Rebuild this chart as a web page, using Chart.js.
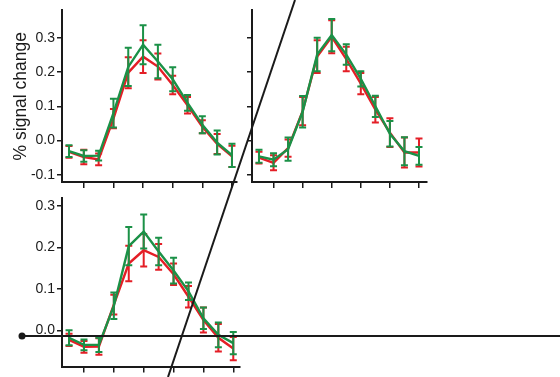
<!DOCTYPE html>
<html>
<head>
<meta charset="utf-8">
<script src="https://cdn.jsdelivr.net/npm/chart.js@4.4.1/dist/chart.umd.min.js"></script>
<style>
  html, body { margin: 0; padding: 0; background: #fff; }
  #wrap { position: relative; width: 560px; height: 377px; overflow: hidden; }
  #wrap canvas { position: absolute; left: 0; top: 0; }
</style>
</head>
<body>
<div id="wrap">
  <canvas id="p1" width="560" height="377"></canvas>
  <canvas id="p2" width="560" height="377"></canvas>
  <canvas id="p3" width="560" height="377"></canvas>
  <canvas id="guides" width="560" height="377"></canvas>
</div>
<script>
// time points (scans) and tick positions on the x axis
const timepoints = [1, 2, 3, 4, 5, 6, 7, 8, 9, 10, 11, 12];
const xTicks = [2, 4, 6, 8, 10, 12];
const yTicksTop = [-0.1, 0, 0.1, 0.2, 0.3];
const yTicksBottom = [0, 0.1, 0.2, 0.3];

// top left panel
const p1Red = [-0.033, -0.048, -0.055, 0.064, 0.198, 0.245, 0.216, 0.162, 0.103, 0.040, -0.010, -0.046];
const p1RedErr = [0.017, 0.021, 0.017, 0.028, 0.045, 0.048, 0.038, 0.027, 0.024, 0.019, 0.029, 0.031];
const p1Green = [-0.031, -0.045, -0.044, 0.080, 0.215, 0.280, 0.231, 0.179, 0.110, 0.046, -0.006, -0.043];
const p1GreenErr = [0.017, 0.017, 0.014, 0.042, 0.056, 0.057, 0.049, 0.035, 0.023, 0.025, 0.035, 0.034];

// top right panel
const p2Red = [-0.050, -0.065, -0.022, 0.086, 0.245, 0.303, 0.238, 0.166, 0.090, 0.023, -0.035, -0.035];
const p2RedErr = [0.017, 0.022, 0.025, 0.041, 0.048, 0.048, 0.036, 0.031, 0.037, 0.042, 0.044, 0.041];
const p2Green = [-0.046, -0.056, -0.025, 0.084, 0.251, 0.308, 0.251, 0.180, 0.100, 0.020, -0.031, -0.045];
const p2GreenErr = [0.019, 0.019, 0.034, 0.046, 0.049, 0.047, 0.030, 0.022, 0.031, 0.037, 0.041, 0.026];

// bottom panel
const p3Red = [-0.023, -0.040, -0.039, 0.062, 0.161, 0.193, 0.177, 0.135, 0.081, 0.025, -0.018, -0.044];
const p3RedErr = [0.015, 0.014, 0.020, 0.024, 0.043, 0.039, 0.031, 0.026, 0.026, 0.030, 0.033, 0.028];
const p3Green = [-0.018, -0.035, -0.035, 0.059, 0.203, 0.238, 0.190, 0.144, 0.094, 0.029, -0.011, -0.031];
const p3GreenErr = [0.018, 0.013, 0.017, 0.032, 0.046, 0.041, 0.033, 0.031, 0.021, 0.026, 0.030, 0.027];

// overlay guide lines, in page units
const slantLine = [[295, 0], [168, 377]];
const baseLine = [[22, 336], [560, 336]];
const baseDot = [[22, 336]];

const RED = "#e41e26";
const GREEN = "#1b9147";
const INK = "#1a1a1a";

Chart.defaults.font.family = "'Liberation Sans', Arial, sans-serif";
Chart.defaults.color = INK;

const errorBars = {
  id: "errorBars",
  afterDatasetDraw(chart, args) {
    const ds = chart.data.datasets[args.index];
    if (!ds.errors) return;
    const { ctx } = chart;
    const x = chart.scales.x, y = chart.scales.y;
    ctx.save();
    ctx.strokeStyle = ds.borderColor;
    ctx.lineWidth = 2;
    ds.data.forEach((d, i) => {
      const px = x.getPixelForValue(d.x);
      const top = y.getPixelForValue(d.y + ds.errors[i]);
      const bot = y.getPixelForValue(d.y - ds.errors[i]);
      ctx.beginPath();
      ctx.moveTo(px, top); ctx.lineTo(px, bot);
      ctx.moveTo(px - 3.5, top); ctx.lineTo(px + 3.5, top);
      ctx.moveTo(px - 3.5, bot); ctx.lineTo(px + 3.5, bot);
      ctx.stroke();
    });
    ctx.restore();
  }
};

const series = (vals, errs, color) => ({
  data: timepoints.map((t, i) => ({ x: t, y: vals[i] })),
  errors: errs,
  borderColor: color,
  borderWidth: 2.4,
  pointRadius: 0,
  tension: 0,
  fill: false
});

function makePanel(id, cfg) {
  const a = cfg.area;
  return new Chart(document.getElementById(id), {
    type: "line",
    data: {
      datasets: [
        series(cfg.green, cfg.greenErr, GREEN),
        series(cfg.red, cfg.redErr, RED)
      ]
    },
    options: {
      responsive: false,
      animation: false,
      events: [],
      layout: { padding: { left: 0, top: a.top, right: 560 - a.right, bottom: 0 } },
      plugins: { legend: { display: false }, tooltip: { enabled: false } },
      scales: {
        x: {
          type: "linear",
          min: cfg.xMin,
          max: cfg.xMax,
          afterBuildTicks: (s) => { s.ticks = xTicks.map((v) => ({ value: v })); },
          afterFit: (s) => { s.height = 377 - a.bottom; },
          ticks: { color: "transparent" },
          grid: { drawOnChartArea: false, drawTicks: true, tickLength: 6, color: INK, lineWidth: 1.5 },
          border: { display: true, color: INK, width: 2 }
        },
        y: {
          min: cfg.yMin,
          max: cfg.yMax,
          afterBuildTicks: (s) => { s.ticks = cfg.yTicks.map((v) => ({ value: v })); },
          afterFit: (s) => { s.width = a.left; },
          ticks: {
            color: cfg.labels ? INK : "transparent",
            font: { size: 14 },
            padding: 2,
            callback: (v) => v.toFixed(1)
          },
          grid: { drawOnChartArea: false, drawTicks: true, tickLength: 5, color: INK, lineWidth: 1.5 },
          border: { display: true, color: INK, width: 2 },
          title: {
            display: !!cfg.title,
            text: cfg.title || "",
            color: INK,
            font: { size: 17.5 },
            padding: { top: 11, bottom: 0 }
          }
        }
      }
    },
    plugins: [errorBars]
  });
}

makePanel("p1", {
  area: { left: 62, top: 8, right: 237, bottom: 182 },
  xMin: 0.528, xMax: 12.34, yMin: -0.121, yMax: 0.38, yTicks: yTicksTop,
  labels: true, title: "% signal change",
  red: p1Red, redErr: p1RedErr, green: p1Green, greenErr: p1GreenErr
});

makePanel("p2", {
  area: { left: 252, top: 8, right: 427, bottom: 182 },
  xMin: 0.52, xMax: 12.55, yMin: -0.121, yMax: 0.38, yTicks: yTicksTop,
  labels: false,
  red: p2Red, redErr: p2RedErr, green: p2Green, greenErr: p2GreenErr
});

makePanel("p3", {
  area: { left: 62, top: 198, right: 240, bottom: 370 },
  xMin: 0.528, xMax: 12.45, yMin: -0.0875, yMax: 0.319, yTicks: yTicksBottom,
  labels: true,
  red: p3Red, redErr: p3RedErr, green: p3Green, greenErr: p3GreenErr
});

const toPts = (arr) => arr.map(([x, y]) => ({ x, y }));

new Chart(document.getElementById("guides"), {
  type: "scatter",
  data: {
    datasets: [
      { data: toPts(slantLine), showLine: true, borderColor: INK, borderWidth: 2, pointRadius: 0, clip: false },
      { data: toPts(baseLine), showLine: true, borderColor: INK, borderWidth: 2, pointRadius: 0, clip: false },
      { data: toPts(baseDot), pointRadius: 3.5, backgroundColor: INK, borderWidth: 0, clip: false }
    ]
  },
  options: {
    responsive: false,
    animation: false,
    events: [],
    layout: { padding: 0, autoPadding: false },
    plugins: { legend: { display: false }, tooltip: { enabled: false } },
    scales: {
      x: { display: false, min: 0, max: 560 },
      y: { display: false, min: 0, max: 377, reverse: true }
    }
  }
});
</script>
</body>
</html>
